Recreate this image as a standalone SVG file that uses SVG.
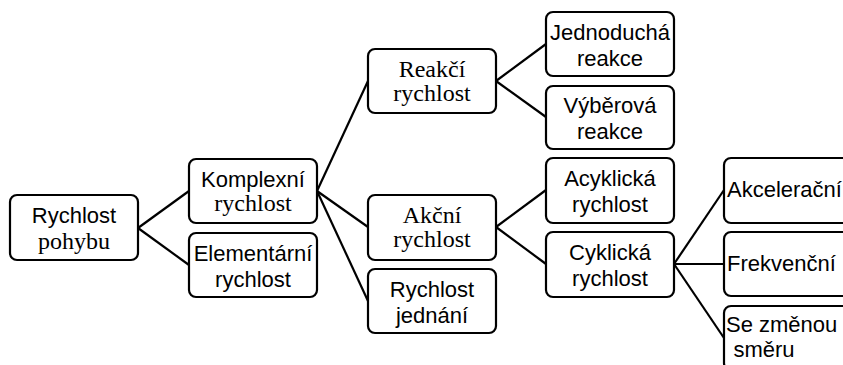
<svg xmlns="http://www.w3.org/2000/svg" width="843" height="365" viewBox="0 0 843 365">
<style>
.b{fill:#fff;stroke:#000;stroke-width:2.2}
.s{font-family:"Liberation Sans",Arial,sans-serif;font-size:22px;fill:#000;text-anchor:middle}
.r{font-family:"Liberation Serif","Times New Roman",serif;font-size:24px;fill:#000;text-anchor:middle}
.l{text-anchor:start}
#conn line{stroke:#000;stroke-width:2.2}
</style>
<rect width="843" height="365" fill="#fff"/>
<g id="conn">
<line x1="138" y1="228" x2="189" y2="191"/>
<line x1="138" y1="228" x2="189" y2="265"/>
<line x1="317" y1="191" x2="368" y2="81"/>
<line x1="317" y1="191" x2="368" y2="227"/>
<line x1="317" y1="191" x2="368" y2="301"/>
<line x1="496" y1="81" x2="546" y2="44"/>
<line x1="496" y1="81" x2="546" y2="117"/>
<line x1="496" y1="227" x2="546" y2="190"/>
<line x1="496" y1="227" x2="546" y2="264"/>
<line x1="674" y1="264" x2="724" y2="190"/>
<line x1="674" y1="264" x2="724" y2="264"/>
<line x1="674" y1="264" x2="724" y2="338"/>
</g>
<g id="n-pohyb"><rect class="b" x="10" y="195" width="128" height="65" rx="7"/>
<text class="s" x="74" y="223">Rychlost</text><text class="r" x="74" y="249">pohybu</text></g>
<g id="n-komplex"><rect class="b" x="189" y="159" width="128" height="64" rx="7"/>
<text class="s" x="253" y="187">Komplexní</text><text class="r" x="253" y="211">rychlost</text></g>
<g id="n-element"><rect class="b" x="189" y="233" width="128" height="64" rx="7"/>
<text class="s" x="253" y="261">Elementární</text><text class="s" x="253" y="287">rychlost</text></g>
<g id="n-reakci"><rect class="b" x="368" y="49" width="128" height="64" rx="7"/>
<text class="r" x="432" y="77">Reakčí</text><text class="r" x="432" y="101">rychlost</text></g>
<g id="n-akcni"><rect class="b" x="368" y="195" width="128" height="65" rx="7"/>
<text class="r" x="432" y="223">Akční</text><text class="r" x="432" y="247">rychlost</text></g>
<g id="n-jednani"><rect class="b" x="368" y="269" width="128" height="64" rx="7"/>
<text class="s" x="432" y="297">Rychlost</text><text class="s" x="432" y="323">jednání</text></g>
<g id="n-jednoducha"><rect class="b" x="546" y="12" width="128" height="64" rx="7"/>
<text class="s" x="610" y="40">Jednoduchá</text><text class="s" x="610" y="66">reakce</text></g>
<g id="n-vyberova"><rect class="b" x="546" y="86" width="128" height="63" rx="7"/>
<text class="s" x="610" y="113">Výběrová</text><text class="s" x="610" y="139">reakce</text></g>
<g id="n-acyklicka"><rect class="b" x="546" y="158" width="128" height="65" rx="7"/>
<text class="s" x="610" y="186">Acyklická</text><text class="s" x="610" y="212">rychlost</text></g>
<g id="n-cyklicka"><rect class="b" x="546" y="232" width="128" height="65" rx="7"/>
<text class="s" x="610" y="260">Cyklická</text><text class="s" x="610" y="286">rychlost</text></g>
<g id="n-akcel"><rect class="b" x="724" y="158" width="132" height="65" rx="7"/>
<text class="s l" x="727" y="197">Akcelerační</text></g>
<g id="n-frekv"><rect class="b" x="724" y="232" width="132" height="64" rx="7"/>
<text class="s l" x="727" y="271">Frekvenční</text></g>
<g id="n-smer"><rect class="b" x="724" y="306" width="132" height="64" rx="7"/>
<text class="s l" x="726" y="332">Se změnou</text><text class="s" x="764" y="357">směru</text></g>
</svg>
